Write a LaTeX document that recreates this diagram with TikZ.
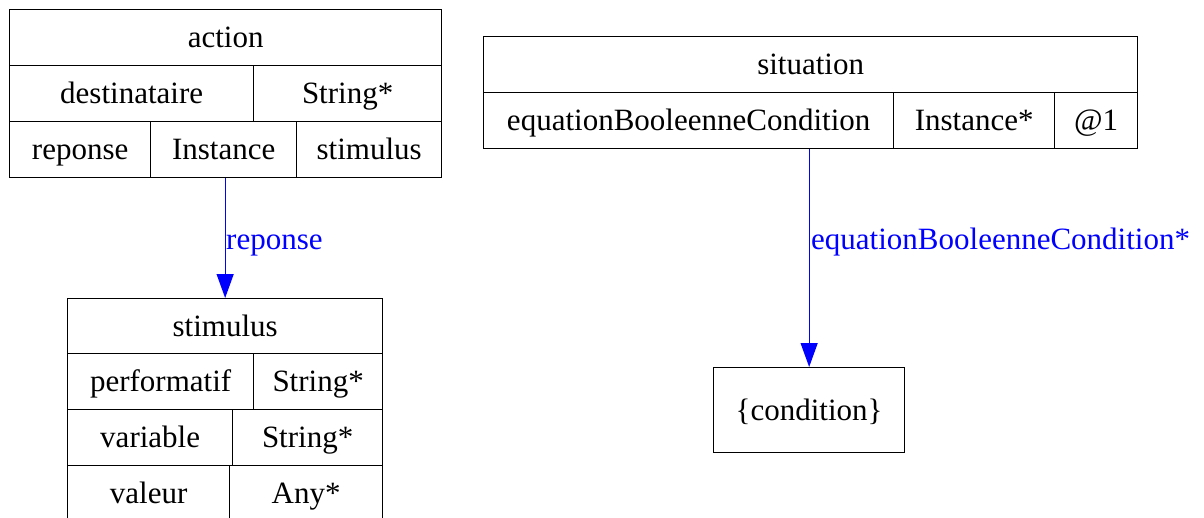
\documentclass[tikz,border=0pt]{standalone}
\usepackage{fontspec}
\setmainfont{Liberation Serif}
\usetikzlibrary{arrows.meta}
\begin{document}
\begin{tikzpicture}[x=1pt,y=-1pt,
  cell/.style={draw=black, line width=1.3pt, anchor=north west, inner sep=0pt,
    text height=20pt, text depth=0pt, font=\fontsize{31}{36}\selectfont},
  lbl/.style={text=blue, anchor=west, inner sep=0pt, text height=20pt, text depth=0pt,
    font=\fontsize{31}{36}\selectfont},
  link/.style={draw=blue, line width=1.3pt, -{Triangle[length=24pt,width=17pt]}}]
\useasboundingbox (0,0) rectangle (1204,517);
% action
\node[cell, minimum width=432pt, minimum height=56pt] (a-title) at (9,9) {action};
\node[cell, minimum width=244pt, minimum height=56pt] (a-dest) at (9,65) {destinataire};
\node[cell, minimum width=188pt, minimum height=56pt] (a-dtype) at (253,65) {String*};
\node[cell, minimum width=141pt, minimum height=56pt] (a-rep) at (9,121) {reponse};
\node[cell, minimum width=146pt, minimum height=56pt] (a-inst) at (150,121) {Instance};
\node[cell, minimum width=145pt, minimum height=56pt] (a-stim) at (296,121) {stimulus};
% situation
\node[cell, minimum width=654pt, minimum height=56pt] (s-title) at (483,36) {situation};
\node[cell, minimum width=410pt, minimum height=56pt] (s-eq) at (483,92) {equationBooleenneCondition};
\node[cell, minimum width=161pt, minimum height=56pt] (s-inst) at (893,92) {Instance*};
\node[cell, minimum width=83pt, minimum height=56pt] (s-at) at (1054,92) {@1};
% stimulus
\node[cell, minimum width=315pt, minimum height=55pt] (t-title) at (67,298) {stimulus};
\node[cell, minimum width=186pt, minimum height=56pt] (t-perf) at (67,353) {performatif};
\node[cell, minimum width=129pt, minimum height=56pt] (t-ptype) at (253,353) {String*};
\node[cell, minimum width=165pt, minimum height=56pt] (t-var) at (67,409) {variable};
\node[cell, minimum width=150pt, minimum height=56pt] (t-vtype) at (232,409) {String*};
\node[cell, minimum width=162pt, minimum height=56pt] (t-val) at (67,465) {valeur};
\node[cell, minimum width=153pt, minimum height=56pt] (t-vatype) at (229,465) {Any*};
% condition
\node[cell, minimum width=191pt, minimum height=85pt] (cond) at (713,367) {\{condition\}};
% connectors
\draw[link] (t-title.north |- a-inst.south) -- (t-title.north);
\draw[link] (cond.north |- s-eq.south) -- (cond.north);
\node[lbl] (l-rep) at (226,239) {reponse};
\node[lbl] (l-eq) at (811,239) {equationBooleenneCondition*};
\end{tikzpicture}
\end{document}
